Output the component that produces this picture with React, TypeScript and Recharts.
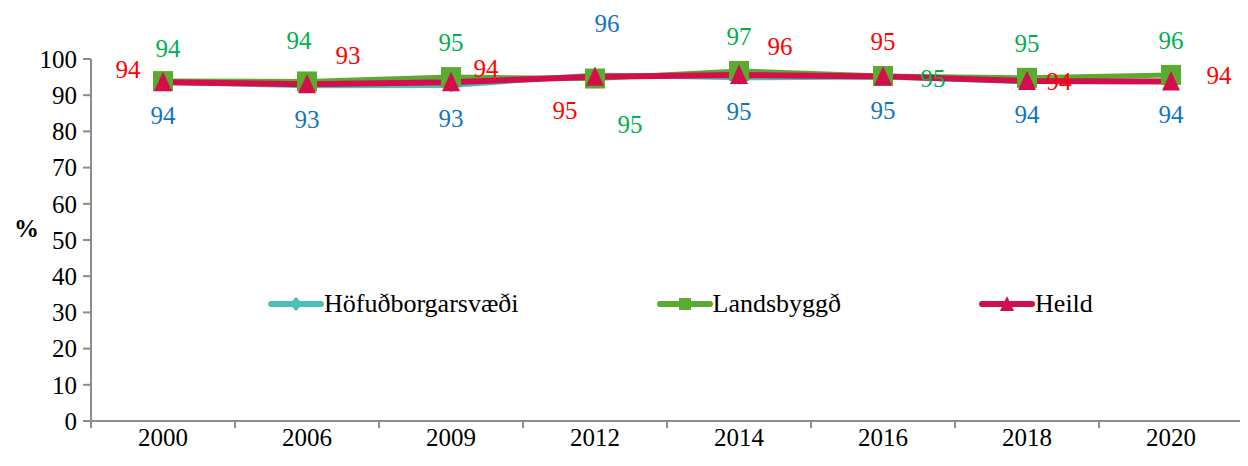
import React from 'react';
import { LineChart, Line, XAxis, YAxis, Legend, LabelList } from 'recharts';

const years = ['2000', '2006', '2009', '2012', '2014', '2016', '2018', '2020'];
const hofud = [93.6, 92.6, 92.7, 95.6, 94.8, 95.0, 93.8, 93.8];
const lands = [93.9, 93.8, 95.0, 94.6, 96.7, 95.3, 94.8, 95.6];
const heild = [93.6, 93.0, 93.6, 95.1, 95.6, 95.2, 93.9, 93.8];
const yTicks = [0, 10, 20, 30, 40, 50, 60, 70, 80, 90, 100];

const seriesNames = ['Höfuðborgarsvæði', 'Landsbyggð', 'Heild'];
const lineColors = ['#4BBFB9', '#5BAB31', '#D20F4A'];
const labelColors = ['#0F75C2', '#00B050', '#FF0000'];

const hofudPlace = ['below', 'below', 'below', 'aboveRightHigh', 'below', 'below', 'below', 'below'];
const landsPlace = ['aboveR', 'aboveLHigh', 'above', 'belowRightFar', 'above', 'rightFar', 'above', 'above'];
const heildPlace = ['leftUp', 'aboveRight', 'rightUp', 'belowLeft', 'aboveRight', 'above', 'right', 'rightFar2'];

const offsets: Record<string, [number, number]> = {
  below: [0, 33],
  above: [0, -35],
  aboveR: [5, -33],
  aboveLHigh: [-8, -41],
  aboveRightHigh: [12, -52],
  belowRightFar: [35, 45],
  rightFar: [50, 2],
  leftUp: [-35, -13],
  aboveRight: [41, -29],
  rightUp: [35, -14],
  belowLeft: [-30, 33],
  right: [32, 0],
  rightFar2: [48, -6],
};

const data = years.map((y, i) => ({ year: y, hofud: hofud[i], lands: lands[i], heild: heild[i] }));

const F = 'Times New Roman';

const makeLabel = (places: string[], color: string) => (props: any) => {
  const { x, y, value, index } = props;
  const [dx, dy] = offsets[places[index]] || [0, 0];
  return (
    <text x={x + dx} y={y + dy + 9} textAnchor="middle" fill={color} fontSize={25} fontFamily={F}>
      {Math.round(value)}
    </text>
  );
};

const XTick = (props: any) => {
  const { x, y, payload, index } = props;
  const off = payload.offset || 0;
  const last = index === years.length - 1;
  return (
    <g>
      <line x1={x - off} x2={x - off} y1={y} y2={y + 7} stroke="#8C8C8C" strokeWidth={2} />
      {last && <line x1={x + off} x2={x + off} y1={y} y2={y + 7} stroke="#8C8C8C" strokeWidth={2} />}
      <text x={x} y={y + 25} textAnchor="middle" fontSize={25} fill="#000" fontFamily={F}>
        {payload.value}
      </text>
    </g>
  );
};

const PercentLabel = (props: any) => {
  const vb = props.viewBox || {};
  return (
    <text x={(vb.x || 0) - 17} y={(vb.y || 0) + (vb.height || 0) / 2 - 3} textAnchor="start" fontSize={25} fontWeight="bold" fontFamily={F} fill="#000">
      %
    </text>
  );
};

const Diamond = (props: any) => {
  const { cx, cy, fill, size = 6 } = props;
  if (cx == null || cy == null) return null;
  return <polygon points={`${cx},${cy - size} ${cx + size},${cy} ${cx},${cy + size} ${cx - size},${cy}`} fill={fill} />;
};
const Square = (props: any) => {
  const { cx, cy, fill, size = 10 } = props;
  if (cx == null || cy == null) return null;
  return <rect x={cx - size} y={cy - size} width={size * 2} height={size * 2} fill={fill} />;
};
const Triangle = (props: any) => {
  const { cx, cy, fill, size = 9 } = props;
  if (cx == null || cy == null) return null;
  return <polygon points={`${cx},${cy - size * 1.15} ${cx + size},${cy + size} ${cx - size},${cy + size}`} fill={fill} />;
};

const markers = [Diamond, Square, Triangle];
const legendMarkerSize = [7, 6, 7];

const renderLegend = () => (
  <div style={{ display: 'flex', alignItems: 'center', gap: 138 }}>
    {seriesNames.map((name, i) => {
      const M = markers[i];
      return (
        <div key={name} style={{ display: 'flex', alignItems: 'center' }}>
          <svg width={56} height={24} style={{ display: 'block' }}>
            <line x1={3} x2={53} y1={12} y2={12} stroke={lineColors[i]} strokeWidth={6} strokeLinecap="round" />
            <M cx={28} cy={12} fill={lineColors[i]} size={legendMarkerSize[i]} />
          </svg>
          <span style={{ fontFamily: F, fontSize: 26, color: '#000', lineHeight: '28px' }}>{name}</span>
        </div>
      );
    })}
  </div>
);

export default function App() {
  return (
    <div style={{ fontFamily: F }}>
      <LineChart width={1240} height={450} data={data} margin={{ top: 51, right: 5, bottom: 0, left: 23 }}>
        <XAxis
          dataKey="year"
          scale="band"
          height={37}
          tickLine={false}
          tickSize={0}
          tickMargin={0}
          axisLine={{ stroke: '#8C8C8C', strokeWidth: 2 }}
          tick={<XTick />}
          interval={0}
        />
        <YAxis
          domain={[0, 100]}
          ticks={yTicks}
          width={60}
          interval={0}
          tickSize={8}
          tickMargin={6}
          axisLine={{ stroke: '#8C8C8C', strokeWidth: 2 }}
          tickLine={{ stroke: '#8C8C8C', strokeWidth: 2 }}
          tick={{ fontSize: 25, fontFamily: F, fill: '#000' }}
          label={<PercentLabel />}
        />
        <Legend verticalAlign="middle" align="center" content={renderLegend} wrapperStyle={{ top: 282, left: 260, width: 'auto' }} />
        <Line dataKey="hofud" name={seriesNames[0]} stroke={lineColors[0]} strokeWidth={5} isAnimationActive={false} dot={<Diamond fill={lineColors[0]} size={7} />} activeDot={false}>
          <LabelList dataKey="hofud" content={makeLabel(hofudPlace, labelColors[0])} />
        </Line>
        <Line dataKey="lands" name={seriesNames[1]} stroke={lineColors[1]} strokeWidth={5} isAnimationActive={false} dot={<Square fill={lineColors[1]} size={10} />} activeDot={false}>
          <LabelList dataKey="lands" content={makeLabel(landsPlace, labelColors[1])} />
        </Line>
        <Line dataKey="heild" name={seriesNames[2]} stroke={lineColors[2]} strokeWidth={6} isAnimationActive={false} dot={<Triangle fill={lineColors[2]} size={9} />} activeDot={false}>
          <LabelList dataKey="heild" content={makeLabel(heildPlace, labelColors[2])} />
        </Line>
      </LineChart>
    </div>
  );
}
